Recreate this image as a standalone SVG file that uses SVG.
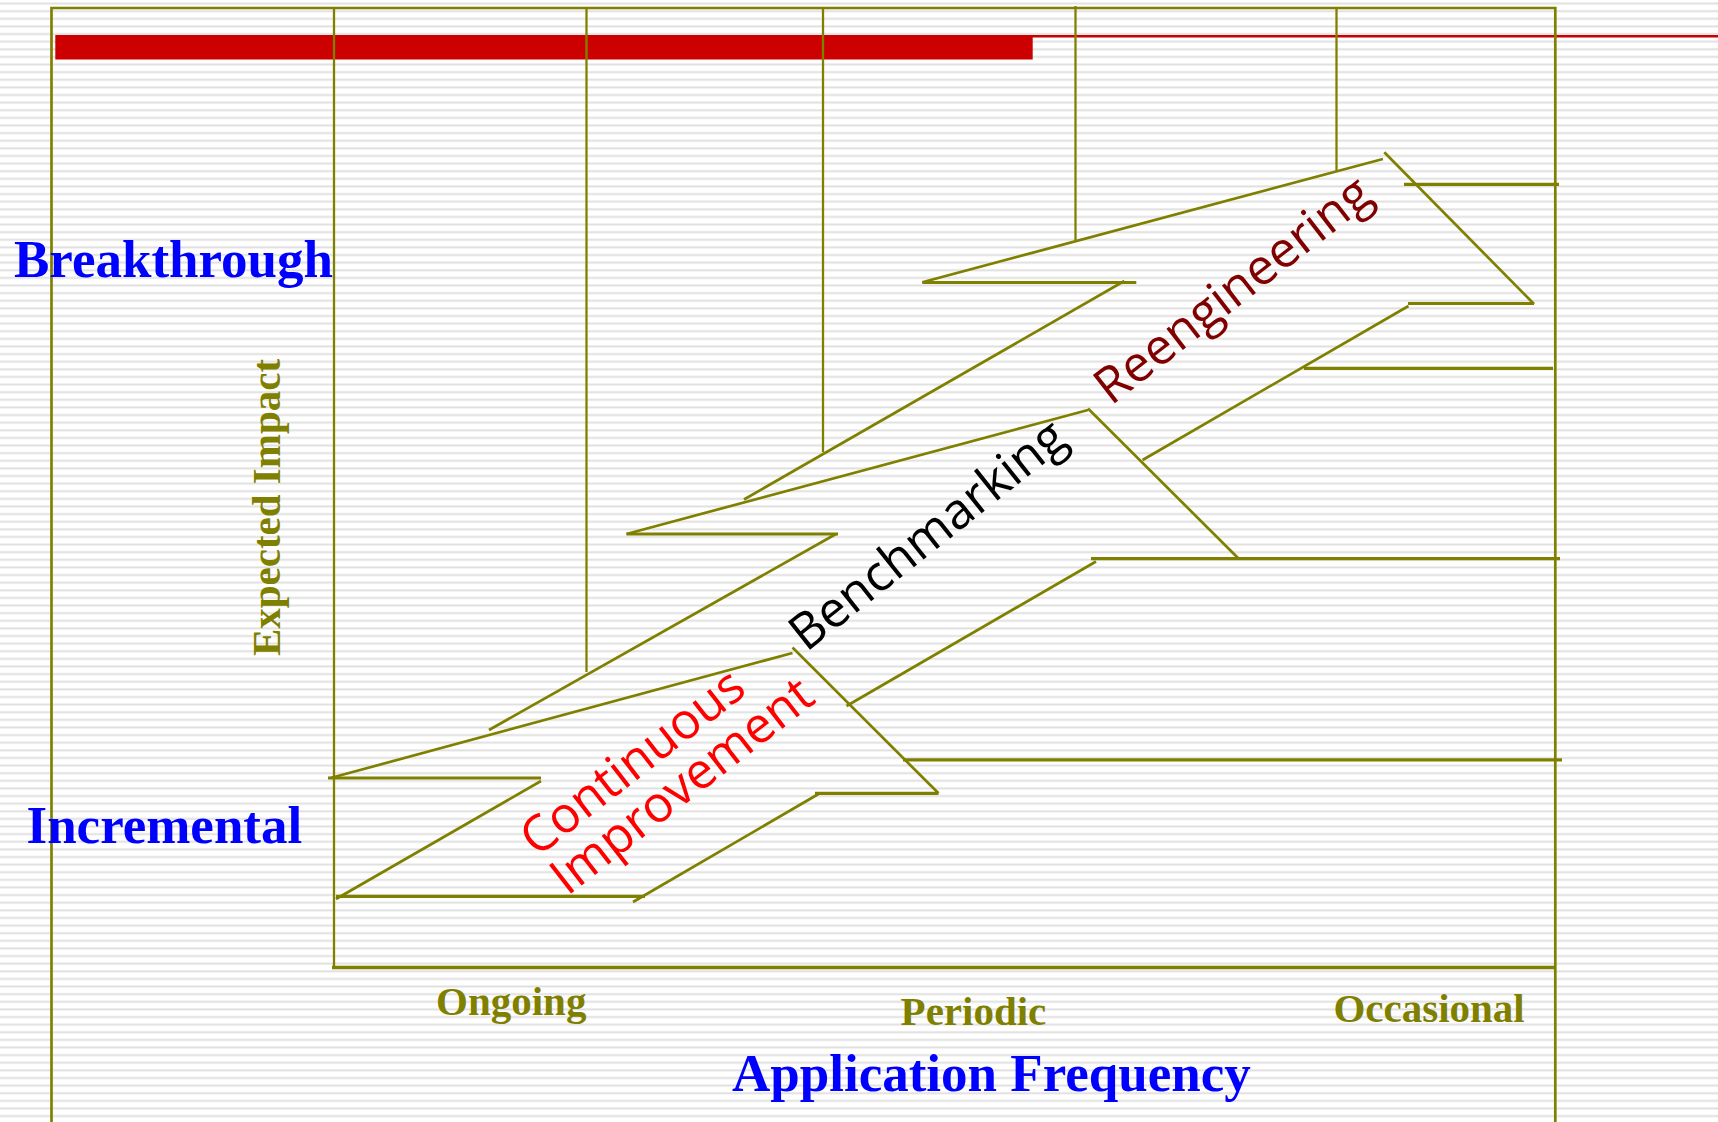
<svg xmlns="http://www.w3.org/2000/svg" width="1718" height="1122" viewBox="0 0 1718 1122">
  <defs>
    <!-- ruled-paper background -->
    <pattern id="ruled" patternUnits="userSpaceOnUse" x="0" y="2.2" width="40" height="7.62">
      <rect width="40" height="7.62" fill="#ffffff"/>
      <rect y="0" width="40" height="0.6" fill="#efefef"/>
      <rect y="0.6" width="40" height="1.6" fill="#dfdfdf"/>
      <rect y="2.2" width="40" height="0.6" fill="#efefef"/>
    </pattern>
    <style>
      .grid { stroke: #808000; stroke-width: 2.3; fill: none; }
      .edge { stroke: #808000; stroke-width: 2.7; fill: none; }
      .notch { stroke: #808000; stroke-width: 3.2; fill: none; }
      .serif { font-family: "Liberation Serif", "Times New Roman", serif; font-weight: bold; }
      .level { fill: #0000FF; font-size: 53px; }
      .freq { fill: #808000; font-size: 41px; }
      .step { font-family: "Open Sans", "DejaVu Sans", sans-serif; font-size: 50px; font-weight: 500; }
    </style>
  </defs>

  <rect id="background" x="0" y="0" width="1718" height="1122" fill="url(#ruled)"/>

  <!-- red banner bar -->
  <g id="banner">
    <rect x="55.3" y="35" width="977.4" height="24.5" fill="#CC0000"/>
    <line x1="1032" y1="36.2" x2="1718" y2="36.2" stroke="#CC0000" stroke-width="2.4"/>
  </g>

  <!-- frame, axes and drop lines -->
  <g id="frame">
    <polyline class="edge" points="51.5,1130 51.5,8 1555.3,8 1555.3,1130"/>
    <line class="grid" x1="334" y1="8" x2="334" y2="968"/>
    <line x1="332" y1="967.5" x2="1555" y2="967.5" stroke="#808000" stroke-width="3.6"/>
    <line class="grid" x1="586.5" y1="8" x2="586.5" y2="672"/>
    <line class="grid" x1="823" y1="8" x2="823" y2="452"/>
    <line class="grid" x1="1075.5" y1="6" x2="1075.5" y2="240"/>
    <line class="grid" x1="1336.5" y1="8" x2="1336.5" y2="171"/>
  </g>

  <!-- block arrow outlines -->
  <g id="connectors">
    <g id="arrow-continuous">
      <line class="notch" x1="328" y1="778" x2="541" y2="778"/>
      <line class="edge" x1="541" y1="781" x2="336" y2="899"/>
      <line class="notch" x1="336" y1="896.3" x2="645" y2="896.3"/>
      <line class="edge" x1="633" y1="902" x2="818.5" y2="794"/>
      <line class="notch" x1="815" y1="793.3" x2="938.5" y2="793.3"/>
      <line class="edge" x1="938.5" y1="793.3" x2="792.5" y2="647.5"/>
      <line class="edge" x1="792.5" y1="653" x2="330.5" y2="778"/>
      <line class="notch" x1="903" y1="759.8" x2="1562" y2="759.8"/>
    </g>
    <g id="arrow-benchmarking">
      <line class="notch" x1="626.5" y1="534" x2="838" y2="534"/>
      <line class="edge" x1="836" y1="534" x2="489" y2="730"/>
      <line class="edge" x1="626.5" y1="534" x2="1088" y2="410"/>
      <line class="edge" x1="1088" y1="408.5" x2="1239" y2="559"/>
      <line class="notch" x1="1091" y1="558.6" x2="1560" y2="558.6"/>
      <line class="edge" x1="1096" y1="561.5" x2="846.5" y2="706"/>
    </g>
    <g id="arrow-reengineering">
      <line class="notch" x1="922.3" y1="282.5" x2="1136.3" y2="282.5"/>
      <line class="edge" x1="1124.3" y1="281" x2="744" y2="499.5"/>
      <line class="edge" x1="922.3" y1="282.3" x2="1382.9" y2="159"/>
      <line class="edge" x1="1384.3" y1="152.3" x2="1534" y2="304"/>
      <line class="notch" x1="1408" y1="303.5" x2="1534" y2="303.5"/>
      <line class="edge" x1="1408.5" y1="306" x2="1142.6" y2="460"/>
      <line class="notch" x1="1404" y1="184.3" x2="1559" y2="184.3"/>
      <line class="notch" x1="1304" y1="368.4" x2="1553" y2="368.4"/>
    </g>
  </g>

  <!-- arrow captions -->
  <g id="label-continuous">
    <text class="step" fill="#FF0000" transform="translate(537,858) rotate(-38)"><tspan x="0" y="0">Continuous</tspan><tspan x="0" y="49">Improvement</tspan></text>
  </g>
  <g id="label-benchmarking">
    <text class="step" fill="#000000" text-anchor="middle" transform="translate(938,548) rotate(-38.5)">Benchmarking</text>
  </g>
  <g id="label-reengineering">
    <text class="step" fill="#800000" text-anchor="middle" transform="translate(1243,303) rotate(-38)">Reengineering</text>
  </g>

  <!-- axis labels -->
  <g id="axis-labels">
    <text class="serif level" x="14" y="277">Breakthrough</text>
    <text class="serif level" x="26.5" y="843">Incremental</text>
    <text class="serif freq" text-anchor="middle" transform="translate(280,507.5) rotate(-90)">Expected Impact</text>
    <text class="serif freq" x="436" y="1015">Ongoing</text>
    <text class="serif freq" x="900.6" y="1025">Periodic</text>
    <text class="serif freq" x="1333.4" y="1022">Occasional</text>
    <text class="serif level" x="732" y="1090.5">Application Frequency</text>
  </g>
</svg>
